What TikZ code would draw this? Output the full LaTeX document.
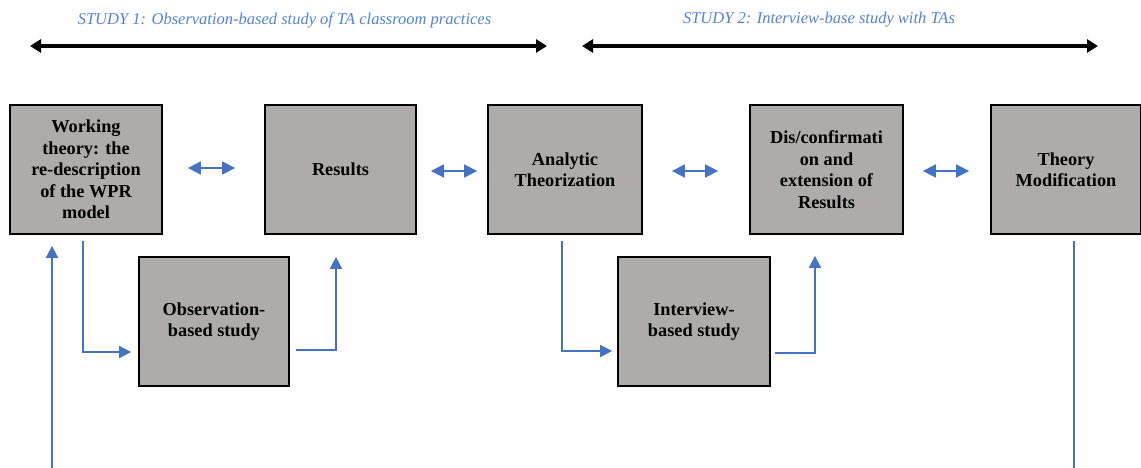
\documentclass[tikz,border=0pt]{standalone}
\usepackage{fontspec}
\setmainfont{Liberation Serif}
\usetikzlibrary{arrows.meta,calc}
\definecolor{flowblue}{RGB}{68,114,196}
\definecolor{titleblue}{RGB}{84,130,210}
\definecolor{boxgray}{RGB}{175,171,171}
\tikzset{
  stagebox/.style={draw=black, line width=1.8pt, fill=boxgray, align=center,
    inner sep=0pt, font=\fontsize{18.3}{21.5}\selectfont\bfseries},
  phasetitle/.style={text=titleblue, font=\fontsize{16.5}{19}\selectfont\itshape, inner sep=0pt},
  phasearrow/.style={line width=3.2pt, {Triangle[length=11pt,width=13pt]}-{Triangle[length=11pt,width=13pt]}},
  dbl/.style={flowblue, line width=1.8pt, {Triangle[length=13pt,width=13pt]}-{Triangle[length=13pt,width=13pt]}},
  flow/.style={flowblue, line width=1.7pt, -{Triangle[length=12pt,width=12pt]}},
  plain/.style={flowblue, line width=1.7pt}
}
\begin{document}
\begin{tikzpicture}[x=1pt,y=-1pt]
\useasboundingbox (0,0) rectangle (1141,468);

% study headings and their spans
\node[phasetitle] (t1) at (284.5,20) {STUDY 1: Observation-based study of TA classroom practices};
\node[phasetitle] (t2) at (819,20) {STUDY 2: Interview-base study with TAs};
\coordinate (s1a) at (30,46);  \coordinate (s1b) at (547,46);
\coordinate (s2a) at (582,46); \coordinate (s2b) at (1098,46);
\draw[phasearrow] (s1a) -- (s1b);
\draw[phasearrow] (s2a) -- (s2b);

% stages of the research cycle
\node[stagebox, minimum width=152pt, minimum height=129pt] (work) at (86,169.5)
  {Working\\theory: the\\re-description\\of the WPR\\model};
\node[stagebox, minimum width=151pt, minimum height=129pt] (res) at (340.5,169.5) {Results};
\node[stagebox, minimum width=154pt, minimum height=129pt] (ana) at (565,169.5)
  {Analytic\\Theorization};
\node[stagebox, minimum width=153pt, minimum height=129pt] (dis) at (826.5,169.5)
  {Dis/confirmati\\on and\\extension of\\Results};
\node[stagebox, minimum width=150pt, minimum height=129pt] (thm) at (1066,169.5)
  {Theory\\Modification};
\node[stagebox, minimum width=150pt, minimum height=129pt] (obs) at (214,321.5)
  {Observation-\\based study};
\node[stagebox, minimum width=152pt, minimum height=129pt] (int) at (694,321.5)
  {Interview-\\based study};

% two-way links between neighbouring stages
\draw[dbl, shorten <=25pt, shorten >=29pt] ([yshift=1.5]work.east) -- ([yshift=1.5]res.west);
\draw[dbl, shorten <=14pt, shorten >=10pt] ([yshift=-1.5]res.east) -- ([yshift=-1.5]ana.west);
\draw[dbl, shorten <=29pt, shorten >=31pt] ([yshift=-1.5]ana.east) -- ([yshift=-1.5]dis.west);
\draw[dbl, shorten <=19pt, shorten >=21pt] ([yshift=-1.5]dis.east) -- ([yshift=-1.5]thm.west);

% elbow connectors through the empirical studies
\coordinate (e1s) at ($(work.south)+(-3,6)$);
\coordinate (e1e) at ($(obs.west)+(-7,30.5)$);
\draw[flow] (e1s) |- (e1e);
\coordinate (e2s) at ($(obs.east)+(6,28.5)$);
\coordinate (e2e) at ($(res.south)+(-4.5,22)$);
\draw[flow] (e2s) -| (e2e);
\coordinate (e3s) at ($(ana.south)+(-3,6)$);
\coordinate (e3e) at ($(int.west)+(-5,29.5)$);
\draw[flow] (e3s) |- (e3e);
\coordinate (e4s) at ($(int.east)+(4,31.5)$);
\coordinate (e4e) at ($(dis.south)+(-11.5,21)$);
\draw[flow] (e4s) -| (e4e);

% feedback from the modified theory back to the working theory
\coordinate (fbl) at (52,468);
\coordinate (fbt) at ($(work.south)+(-34,11)$);
\draw[flow] (fbl) -- (fbt);
\coordinate (fbr) at (1074,468);
\coordinate (fbs) at ($(thm.south)+(8,6)$);
\draw[plain] (fbs) -- (fbr);
\end{tikzpicture}
\end{document}
